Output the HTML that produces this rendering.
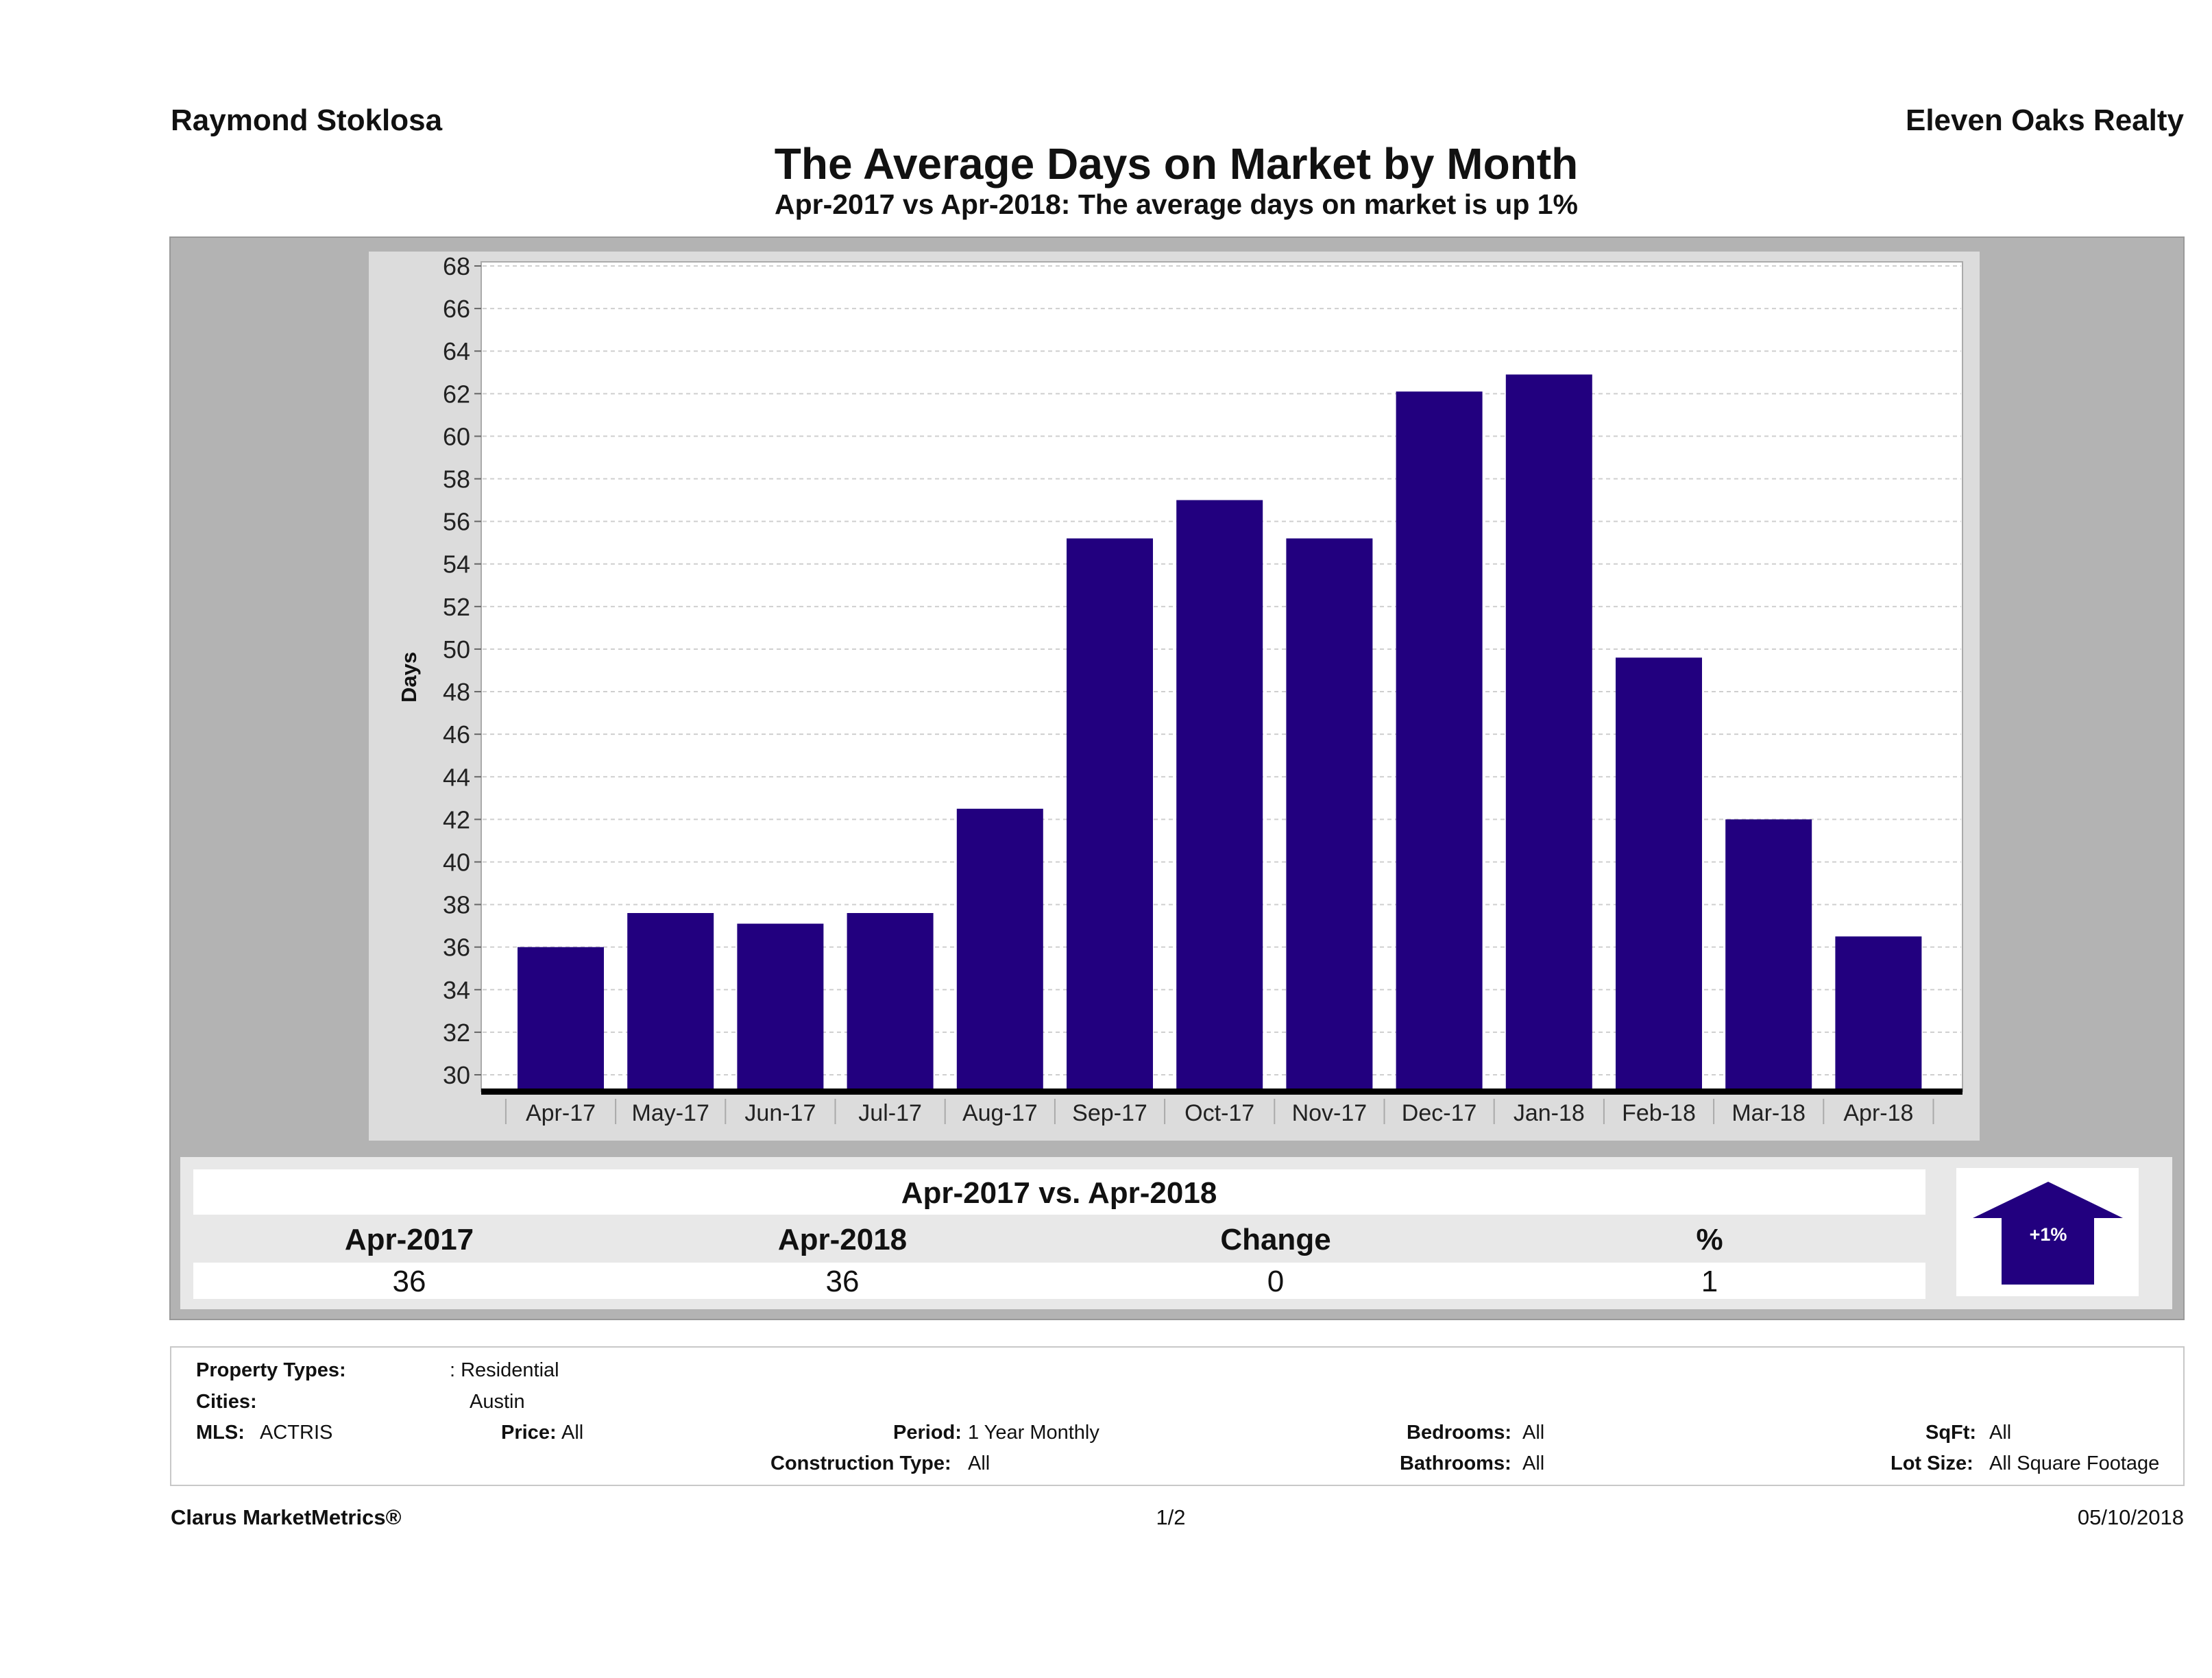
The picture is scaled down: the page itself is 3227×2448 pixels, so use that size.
<!DOCTYPE html>
<html><head><meta charset="utf-8"><style>
body{margin:0;background:#fff;}
svg{display:block;font-family:"Liberation Sans","DejaVu Sans",sans-serif;}
</style></head><body>
<svg id="page" width="3227" height="2448" viewBox="0 0 3227 2448" xmlns="http://www.w3.org/2000/svg">
<rect width="3227" height="2448" fill="#fff"/>
<text x="249" y="190" font-size="44" font-weight="bold" fill="#111">Raymond Stoklosa</text>
<text x="3186" y="190" font-size="44" font-weight="bold" fill="#111" text-anchor="end">Eleven Oaks Realty</text>
<text x="1716" y="261" font-size="64" font-weight="bold" fill="#111" text-anchor="middle">The Average Days on Market by Month</text>
<text x="1716" y="312" font-size="41" font-weight="bold" fill="#111" text-anchor="middle">Apr-2017 vs Apr-2018: The average days on market is up 1%</text>

<rect x="248" y="346" width="2938" height="1579" fill="#b3b3b3" stroke="#999" stroke-width="2"/>
<rect x="538" y="367" width="2350" height="1297" fill="#dcdcdc"/>
<rect x="702" y="382" width="2161" height="1210" fill="#fff" stroke="#aaa" stroke-width="2"/>
<g id="grid"></g>
<g id="yticks"></g>
<g id="bars"></g>
<g id="xticks"></g>
<text transform="translate(607,988) rotate(-90)" font-size="31" font-weight="bold" fill="#111" text-anchor="middle">Days</text>

<rect x="263" y="1688" width="2906" height="222" fill="#e8e8e8"/>
<rect x="282" y="1706" width="2527" height="66" fill="#fff"/>
<rect x="282" y="1842" width="2527" height="53" fill="#fff"/>
<text x="1545" y="1755" font-size="44" font-weight="bold" fill="#111" text-anchor="middle">Apr-2017 vs. Apr-2018</text>
<g font-size="44" font-weight="bold" fill="#111" text-anchor="middle">
<text x="597" y="1823">Apr-2017</text>
<text x="1229" y="1823">Apr-2018</text>
<text x="1861" y="1823">Change</text>
<text x="2494" y="1823">%</text>
</g>
<g font-size="44" fill="#111" text-anchor="middle">
<text x="597" y="1884">36</text>
<text x="1229" y="1884">36</text>
<text x="1861" y="1884">0</text>
<text x="2494" y="1884">1</text>
</g>
<rect x="2854" y="1704" width="266" height="187" fill="#fff"/>
<polygon points="2988,1724 3097,1777 3055,1777 3055,1874 2920,1874 2920,1777 2878,1777" fill="#22007f"/>
<text x="2988" y="1810" font-size="27" font-weight="bold" fill="#fff" text-anchor="middle">+1%</text>

<rect x="249" y="1965" width="2937" height="202" fill="#fff" stroke="#c8c8c8" stroke-width="2"/>
<g font-size="29" fill="#111">
<text x="286" y="2008" font-weight="bold">Property Types:</text>
<text x="656" y="2008">: Residential</text>
<text x="286" y="2054" font-weight="bold">Cities:</text>
<text x="685" y="2054">Austin</text>
<text x="286" y="2099" font-weight="bold">MLS:</text>
<text x="379" y="2099">ACTRIS</text>
<text x="731" y="2099" font-weight="bold">Price:</text>
<text x="819" y="2099">All</text>
<text x="1303" y="2099" font-weight="bold">Period:</text>
<text x="1412" y="2099">1 Year Monthly</text>
<text x="2052" y="2099" font-weight="bold">Bedrooms:</text>
<text x="2221" y="2099">All</text>
<text x="2809" y="2099" font-weight="bold">SqFt:</text>
<text x="2902" y="2099">All</text>
<text x="1124" y="2144" font-weight="bold">Construction Type:</text>
<text x="1412" y="2144">All</text>
<text x="2042" y="2144" font-weight="bold">Bathrooms:</text>
<text x="2221" y="2144">All</text>
<text x="2758" y="2144" font-weight="bold">Lot Size:</text>
<text x="2902" y="2144">All Square Footage</text>
</g>
<text x="249" y="2224" font-size="31" font-weight="bold" fill="#111">Clarus MarketMetrics®</text>
<text x="1708" y="2224" font-size="31" fill="#111" text-anchor="middle">1/2</text>
<text x="3186" y="2224" font-size="31" fill="#111" text-anchor="end">05/10/2018</text>
</svg>
<script>
const categories = ["Apr-17","May-17","Jun-17","Jul-17","Aug-17","Sep-17","Oct-17","Nov-17","Dec-17","Jan-18","Feb-18","Mar-18","Apr-18"];
const values = [36.0,37.6,37.1,37.6,42.5,55.2,57.0,55.2,62.1,62.9,49.6,42.0,36.5];
const yTicks = [30,32,34,36,38,40,42,44,46,48,50,52,54,56,58,60,62,64,66,68];
const NS = "http://www.w3.org/2000/svg";
const yMin = 30, yMax = 68, yBot = 1568, yTop = 388;
function yScale(v){ return yBot - (v - yMin) * (yBot - yTop) / (yMax - yMin); }
const firstC = 818, step = 160.2, barW = 126;
function xScale(i){ return firstC + i * step; }
function mk(tag, attrs, parent){ const e = document.createElementNS(NS, tag); for (const k in attrs) e.setAttribute(k, attrs[k]); parent.appendChild(e); return e; }
const grid = document.getElementById('grid'), yt = document.getElementById('yticks'), bars = document.getElementById('bars'), xt = document.getElementById('xticks');
yTicks.forEach(t => {
  const y = yScale(t);
  const g = mk('line', {x1:704, x2:2861, y1:y, y2:y, stroke:'#cfcfcf', 'stroke-width':2, 'stroke-dasharray':'6,5'}, grid);
  
  
  const tk = mk('line', {x1:692, x2:702, y1:y, y2:y, stroke:'#666', 'stroke-width':2}, yt);
  
  
  const tx = mk('text', {x:686, y:y+13, 'font-size':36, fill:'#222', 'text-anchor':'end'}, yt);
  tx.textContent = t;
  
  
});
values.forEach((v, i) => {
  const y = yScale(v);
  const r = mk('rect', {x:xScale(i)-barW/2, y:y, width:barW, height:1590-y, fill:'#22007f'}, bars);
  
  
});
const ax = mk('rect', {x:702, y:1588, width:2161, height:9, fill:'#000'}, xt);


categories.forEach((c, i) => {
  const xc = xScale(i);
  const sep = mk('line', {x1:xc-step/2, x2:xc-step/2, y1:1603, y2:1640, stroke:'#aaa', 'stroke-width':2}, xt);
  
  
  const tx = mk('text', {x:xc, y:1635, 'font-size':34, fill:'#222', 'text-anchor':'middle'}, xt);
  tx.textContent = c;
  
  
});
const lastSep = mk('line', {x1:xScale(categories.length-1)+step/2, x2:xScale(categories.length-1)+step/2, y1:1603, y2:1640, stroke:'#aaa', 'stroke-width':2}, xt);


</script>
</body></html>
